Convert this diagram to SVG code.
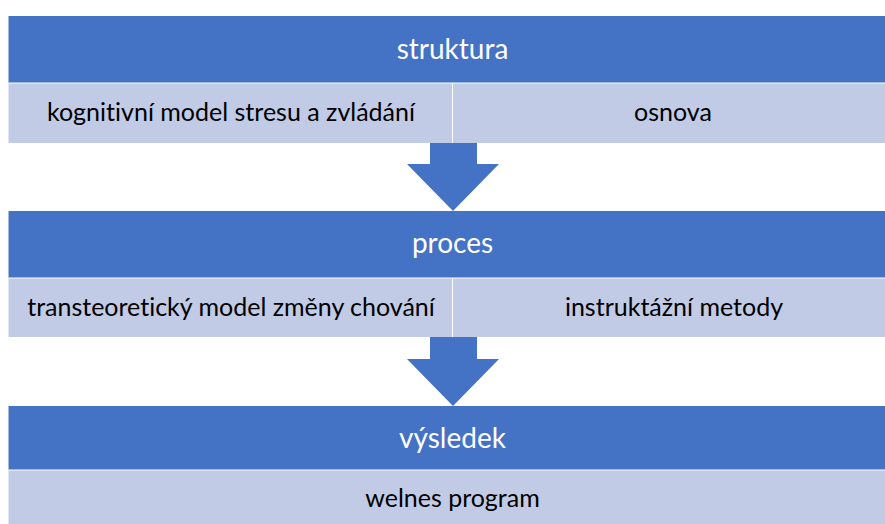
<svg xmlns="http://www.w3.org/2000/svg" width="885" height="524" viewBox="0 0 885 524">
  <style>
    .hdr { fill: #4472C4; }
    .cell { fill: #C2CBE6; }
    .sep { stroke: #FFFFFF; stroke-width: 1; }
    .arrow { fill: #4472C4; }
    text { font-family: "Lato", "Liberation Sans", sans-serif; text-anchor: middle; font-variant-ligatures: none; }
    .th { fill: #FFFFFF; font-size: 28px; }
    .td { fill: #000000; font-size: 25px; }
  </style>
  <rect width="885" height="524" fill="#FFFFFF"/>

  <g id="struktura">
    <rect class="hdr" x="8.5" y="16" width="888" height="67"/>
    <text class="th" x="452.5" y="59">struktura</text>
  </g>
  <g id="kognitivni-model">
    <rect class="cell" x="8.5" y="83" width="444" height="60"/>
    <text class="td" x="231" y="121">kognitivní model stresu a zvládání</text>
  </g>
  <g id="osnova">
    <rect class="cell" x="452.5" y="83" width="444" height="60"/>
    <text class="td" x="673" y="121">osnova</text>
  </g>

  <g id="proces">
    <rect class="hdr" x="8.5" y="211" width="888" height="67"/>
    <text class="th" x="452.5" y="253">proces</text>
  </g>
  <g id="transteoreticky-model">
    <rect class="cell" x="8.5" y="278" width="444" height="59"/>
    <text class="td" x="231" y="316">transteoretický model změny chování</text>
  </g>
  <g id="instruktazni-metody">
    <rect class="cell" x="452.5" y="278" width="444" height="59"/>
    <text class="td" x="674" y="316">instruktážní metody</text>
  </g>

  <g id="vysledek">
    <rect class="hdr" x="8.5" y="406" width="888" height="64"/>
    <text class="th" x="452.5" y="448">výsledek</text>
  </g>
  <g id="welnes-program">
    <rect class="cell" x="8.5" y="470" width="888" height="60"/>
    <text class="td" x="452.5" y="507">welnes program</text>
  </g>

  <!-- row and cell separators -->
  <g id="separators">
    <line class="sep" x1="8.5" y1="83" x2="885" y2="83"/>
    <line class="sep" x1="452.5" y1="83" x2="452.5" y2="143"/>
    <line class="sep" x1="8.5" y1="278" x2="885" y2="278"/>
    <line class="sep" x1="452.5" y1="278" x2="452.5" y2="337"/>
    <line class="sep" x1="8.5" y1="470" x2="885" y2="470"/>
  </g>

  <g id="connectors">
    <polygon class="arrow" points="430,143 477,143 477,164 499,164 453,211 407,164 430,164"/>
    <polygon class="arrow" points="430,337 477,337 477,359 499,359 453,406 407,359 430,359"/>
  </g>
</svg>
